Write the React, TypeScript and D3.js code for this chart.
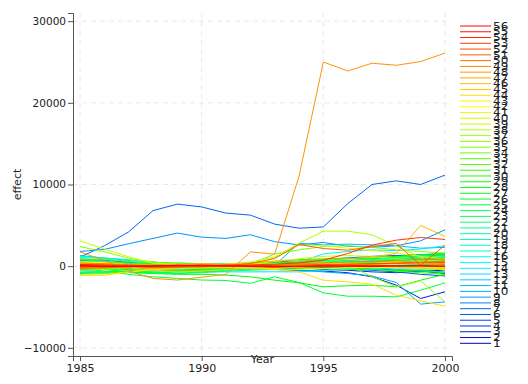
import React, { useRef, useEffect } from 'react'
import * as d3 from 'd3'

const years = [1985, 1986, 1987, 1988, 1989, 1990, 1991, 1992, 1993, 1994, 1995, 1996, 1997, 1998, 1999, 2000]
const yTicks = [-10000, 0, 10000, 20000, 30000]
const xTicks = [1985, 1990, 1995, 2000]

const s1 = [-200, -100, 0, 100, 200, 100, 0, -100, -200, -300, -200, -100, -300, -500, -600, -500]
const s2 = [400, 300, 200, 100, 0, -100, 0, 100, 200, 300, 400, 500, 600, 700, 800, 900]
const s3 = [300, 200, 500, 300, 100, 0, -200, -300, -400, -500, -600, -800, -1300, -2330, -3960, -3140]
const s4 = [700, 800, 600, 300, 100, 200, 300, 200, 100, -200, -400, -500, -700, -800, -600, -900]
const s5 = [100, 200, 400, 500, 300, 200, 100, 300, 500, 700, 800, 1000, 1200, 1300, 1400, 1500]
const s6 = [-500, -400, -300, -200, -300, -400, -300, -200, -100, 0, -200, -400, -500, -700, -1000, -1200]
const s7 = [1100, 2500, 4200, 6800, 7600, 7250, 6500, 6250, 5150, 4650, 4800, 7650, 10000, 10450, 10000, 11150]
const s8 = [900, 700, 500, 200, 0, -100, -200, -300, -200, 0, 200, 300, 500, 800, 1200, 1400]
const s9 = [1800, 2050, 2750, 3400, 4050, 3550, 3400, 3850, 3000, 2600, 2900, 2450, 2300, 2500, 3100, 4450]
const s10 = [-400, -300, -200, -500, -600, -400, -300, -200, -300, -500, -700, -900, -1200, -2000, -4650, -4370]
const s11 = [1300, 1000, 700, 300, 100, 200, 0, -200, 100, 2800, 2600, 2700, 2600, 2500, 2200, 2300]
const s12 = [-900, -800, -700, -500, -300, -200, -100, 0, 100, 200, 100, 0, -200, -400, -500, -700]
const s13 = [-740, -740, -740, -700, -700, -700, -700, -700, -690, -690, -500, -400, -300, -200, -300, -100]
const s14 = [600, 500, 300, 100, 0, 200, 300, 400, 300, 500, 1500, 1800, 2000, 1900, 2100, 2500]
const s15 = [1100, 900, 600, 200, -100, -200, 0, 300, 400, 500, 400, 300, 500, 600, 800, 1000]
const s16 = [-300, -200, -100, 0, 100, 0, -100, 0, 100, 200, 300, 200, 400, 300, 200, 400]
const s17 = [200, 300, 100, -200, -400, -300, -200, -100, 0, -100, -300, -400, -300, -200, -400, -300]
const s18 = [1200, 1000, 800, 400, 200, 100, 200, 300, 200, 100, 300, 500, 700, 900, 1100, 1300]
const s19 = [-600, -700, -800, -900, -700, -500, -300, -400, -200, -100, 100, 200, 300, 500, 400, 600]
const s20 = [500, 400, 200, 0, -100, 0, 100, 200, 300, 400, 600, 700, 800, 1000, 900, 1200]
const s21 = [800, 600, 300, 100, -100, -200, -100, 0, 100, 300, 400, 500, 600, 800, 1000, 1100]
const s22 = [-100, -300, -500, -700, -900, -800, -600, -500, -400, -300, -200, -100, 0, 100, 200, 300]
const s23 = [300, 200, 0, -200, -300, -200, 0, 100, 300, 400, 500, 700, 900, 1100, 1300, 1500]
const s24 = [-800, -700, -600, -800, -900, -700, -500, -300, -100, 100, 200, 300, 400, 600, 500, 700]
const s25 = [100, 0, -200, -400, -500, -400, -300, -200, -100, 0, 100, 300, 500, 700, 900, 1000]
const s26 = [-300, -600, -1000, -1300, -1500, -1700, -1750, -2100, -1300, -2000, -3270, -3680, -3680, -3760, -2940, -2040]
const s27 = [0, 100, 200, 300, 200, 100, 200, 300, 400, 500, 700, 900, 1000, 1200, 1400, 1600]
const s28 = [-200, -400, -700, -900, -1000, -1000, -1100, -1300, -1720, -2040, -2530, -2400, -2330, -2530, -1720, -1000]
const s29 = [-400, -300, -200, -100, 0, 100, 200, 100, 0, -100, -200, -300, -400, -500, -600, -800]
const s30 = [400, 300, 200, 300, 400, 300, 200, 400, 600, 800, 900, 1000, 900, 1100, 1200, 1300]
const s31 = [-200, -300, -400, -500, -600, -500, -400, -300, -200, -100, 0, -200, -400, -600, -800, -1000]
const s32 = [600, 500, 400, 200, 100, 0, 100, 200, 300, 200, 100, 300, 500, 700, 800, 900]
const s33 = [-1000, -900, -700, -500, -300, -100, 0, 100, 200, 100, 0, 200, 400, 600, 700, 800]
const s34 = [200, 100, 0, -100, -200, -300, -200, -100, 0, 100, 200, 100, 0, -100, -200, -300]
const s35 = [900, 800, 600, 400, 300, 100, 0, 200, 1500, 2000, 2400, 2500, 2300, 2000, 1800, 1600]
const s36 = [2400, 1750, 980, 500, 300, 200, 0, -200, 0, 300, 500, 200, -1300, -2530, -1800, -4370]
const s37 = [-500, -400, -200, 0, 100, 200, 100, 0, -100, -200, -300, -200, -100, 0, 100, 200]
const s38 = [600, 400, 200, 0, 100, 300, 200, 500, 1140, 2800, 4290, 4290, 3850, 2450, 1060, -450]
const s39 = [3100, 2100, 1140, 370, 200, 100, 300, 200, 600, 900, 1200, 1300, 1200, 900, 600, 300]
const s40 = [300, 200, 100, 0, -100, 0, 100, 200, 1000, 2600, 2500, 2200, 1900, 1600, 1200, 900]
const s41 = [-300, -200, -100, 0, 100, 0, -100, -200, -300, -400, -300, -200, -100, 0, -100, -200]
const s42 = [500, 400, 200, 100, 0, 100, 200, 100, 0, -100, 200, 400, 300, 500, 400, 600]
const s43 = [-1100, -1100, -700, -400, -200, 0, 100, 200, 300, 200, 100, 0, -100, -200, -300, -400]
const s44 = [-1100, -1100, -700, -400, -300, -200, -100, -300, -400, -690, -1720, -1920, -2200, -3550, -4250, -4900]
const s45 = [200, 0, -200, -500, -700, -600, -400, -200, 0, 200, 300, 200, 100, 0, -200, -500]
const s46 = [300, 200, -100, -300, -200, 0, 200, 400, 600, 700, 800, 900, 1100, 1550, 4980, 3650]
const s47 = [-200, -100, 0, 100, 200, 300, 200, 100, 0, -100, 0, 100, 200, 300, 400, 300]
const s48 = [1750, 700, -600, -1500, -1700, -1350, -1000, 1750, 1470, 11000, 25000, 23900, 24850, 24600, 25050, 26100]
const s49 = [400, 300, 200, 100, 0, -100, 0, 100, 200, 300, 400, 500, 600, 700, 800, 900]
const s50 = [-300, -200, -100, 0, 100, 200, 100, 0, -100, 0, 100, 200, 300, 400, 500, 600]
const s51 = [200, 100, 0, -200, -100, 0, 100, 300, 940, 2650, 2160, 1960, 2370, 2780, 120, 2570]
const s52 = [100, 50, 0, -50, -100, -50, 0, 50, 100, 150, 200, 250, 300, 350, 400, 450]
const s53 = [0, -100, -50, 0, 100, 50, 100, 150, 250, 400, 730, 1550, 2570, 3190, 3510, 3270]
const s54 = [200, 150, 100, 50, 0, 50, 100, 50, 0, -50, -100, -50, 0, 50, 100, 150]
const s55 = [-100, -50, 0, 50, 100, 50, 0, -50, -100, -50, 0, 50, 100, 50, 0, -50]
const s56 = [50, 0, -50, 0, 50, 100, 50, 0, -50, 0, 50, 0, -50, 0, 50, 0]

const seriesValues = [
  s1, s2, s3, s4, s5, s6, s7, s8, s9, s10, s11, s12, s13, s14, s15, s16, s17, s18, s19, s20,
  s21, s22, s23, s24, s25, s26, s27, s28, s29, s30, s31, s32, s33, s34, s35, s36, s37, s38, s39, s40,
  s41, s42, s43, s44, s45, s46, s47, s48, s49, s50, s51, s52, s53, s54, s55, s56,
]
const seriesNames = seriesValues.map((_, i) => String(i + 1))

const FONT = '"DejaVu Sans", sans-serif'

function colorFor(i: number) {
  // i is 0-based; blue for the first series, red for the last
  const n = seriesValues.length
  const hue = 240 * (n - 1 - i) / (n - 1)
  const l = 0.4 + 0.1 * Math.min(1, i / 8)
  return d3.hsl(hue, 1, l).formatHex()
}

export default function App() {
  const svgRef = useRef<SVGSVGElement>(null)

  useEffect(() => {
    if (!svgRef.current) return
    const svg = d3.select(svgRef.current)
    svg.selectAll('*').remove()

    const left = 73, right = 452, top = 13, bottom = 356

    const x = d3.scaleLinear().domain([1984.712, 2000.288]).range([left, right])
    const y = d3.scaleLinear().domain([-11000, 31000]).range([bottom, top])

    // Grid
    const grid = svg.append('g').attr('stroke', '#e8e8e8').attr('stroke-dasharray', '5,4').attr('stroke-width', 1)
    grid.selectAll('.gx').data(xTicks).join('line')
      .attr('x1', d => x(d)).attr('x2', d => x(d))
      .attr('y1', top).attr('y2', bottom)
    grid.selectAll('.gy').data(yTicks).join('line')
      .attr('class', 'gy')
      .attr('x1', left).attr('x2', right)
      .attr('y1', d => y(d)).attr('y2', d => y(d))

    // Lines
    const line = d3.line<number>()
      .x((_, i) => x(years[i]))
      .y(d => y(d))

    svg.append('g').attr('fill', 'none')
      .selectAll('path')
      .data(seriesValues)
      .join('path')
      .attr('d', d => line(d))
      .attr('stroke', (_, i) => colorFor(i))
      .attr('stroke-width', 1)

    // Axes
    const xAxis = svg.append('g')
      .attr('transform', `translate(0,${bottom})`)
      .call(d3.axisBottom(x).tickValues(xTicks).tickFormat(d3.format('d')).tickSizeOuter(0).tickSize(5).tickPadding(3))
    xAxis.selectAll('text').attr('fill', '#222').attr('font-size', 11).attr('font-family', FONT)
    xAxis.selectAll('line,path').attr('stroke', '#555')

    const yAxis = svg.append('g')
      .attr('transform', `translate(${left},0)`)
      .call(d3.axisLeft(y).tickValues(yTicks).tickFormat(d3.format('d')).tickSizeOuter(0).tickSize(5).tickPadding(2))
    yAxis.selectAll('text').attr('fill', '#222').attr('font-size', 10.5).attr('font-family', FONT)
    yAxis.selectAll('line,path').attr('stroke', '#555')

    // Axis titles
    svg.append('text')
      .attr('x', (left + right) / 2).attr('y', 363)
      .attr('text-anchor', 'middle')
      .attr('font-family', FONT).attr('font-size', 11).attr('fill', '#222')
      .text('Year')
    svg.append('text')
      .attr('transform', `translate(21,${(top + bottom) / 2}) rotate(-90)`)
      .attr('text-anchor', 'middle')
      .attr('font-family', FONT).attr('font-size', 11).attr('fill', '#222')
      .text('effect')

    // Legend, last series on top
    const ly = d3.scalePoint<string>().domain(seriesNames.slice().reverse()).range([26, 343.3])
    const legend = svg.append('g')
    const items = legend.selectAll('g').data(seriesNames).join('g')
      .attr('transform', d => `translate(0,${ly(d)})`)
    items.append('line')
      .attr('x1', 460).attr('x2', 491)
      .attr('stroke', (_, i) => colorFor(i)).attr('stroke-width', 1)
    items.append('text')
      .attr('transform', 'translate(493,0) scale(1,0.85)')
      .attr('dy', '0.36em')
      .attr('font-family', FONT).attr('font-size', 12).attr('fill', '#222')
      .text(d => d)
  }, [])

  return (
    <svg ref={svgRef} width={528} height={384}
      style={{ position: 'absolute', left: 0, top: 0, background: '#fff' }} />
  )
}
